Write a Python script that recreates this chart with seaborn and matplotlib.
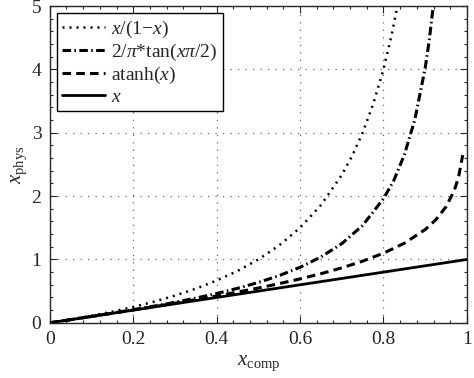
import numpy as np
import pandas as pd
import seaborn as sns
import matplotlib.pyplot as plt

# ──────────────────────────────────────────────
# Values
# ──────────────────────────────────────────────

x_ratio = [0, 0.05, 0.1, 0.15, 0.2, 0.25, 0.3, 0.35, 0.4, 0.45, 0.5, 0.55,
           0.6, 0.65, 0.7, 0.725, 0.75, 0.775, 0.8, 0.82, 0.835]
y_ratio = [0, 0.053, 0.111, 0.176, 0.25, 0.333, 0.429, 0.538, 0.667, 0.818,
           1.0, 1.222, 1.5, 1.857, 2.333, 2.636, 3.0, 3.444, 4.0, 4.556, 5.06]

x_tan = [0, 0.05, 0.1, 0.15, 0.2, 0.25, 0.3, 0.35, 0.4, 0.45, 0.5, 0.55,
         0.6, 0.65, 0.7, 0.75, 0.8, 0.825, 0.85, 0.875, 0.9, 0.91, 0.92]
y_tan = [0, 0.050, 0.101, 0.153, 0.207, 0.264, 0.324, 0.390, 0.463, 0.544,
         0.637, 0.745, 0.876, 1.039, 1.249, 1.537, 1.959, 2.250, 2.652,
         3.201, 4.020, 4.473, 5.039]

x_atanh = [0, 0.05, 0.1, 0.15, 0.2, 0.25, 0.3, 0.35, 0.4, 0.45, 0.5, 0.55,
           0.6, 0.65, 0.7, 0.75, 0.8, 0.85, 0.9, 0.925, 0.95, 0.97, 0.98, 0.99]
y_atanh = [0, 0.050, 0.100, 0.151, 0.203, 0.255, 0.310, 0.365, 0.424, 0.485,
           0.549, 0.618, 0.693, 0.775, 0.867, 0.973, 1.099, 1.256, 1.472,
           1.623, 1.832, 2.092, 2.298, 2.647]

x_lin = [0, 1]
y_lin = [0, 1]

labels = [r"$x$/(1$-$$x$)", r"2/$\pi$*tan($x\pi$/2)", r"atanh($x$)", r"$x$"]
styles = [(0, (0.8, 2.0)), (0, (2.8, 1.1, 0.5, 1.1)), (0, (2.8, 1.7)), "-"]
widths = [1.8, 2.2, 2.2, 2.0]

# ──────────────────────────────────────────────
# Style
# ──────────────────────────────────────────────

sns.set_style("ticks")
plt.rcParams["font.family"] = "serif"
plt.rcParams["font.serif"] = ["Liberation Serif", "DejaVu Serif"]
plt.rcParams["mathtext.fontset"] = "custom"
plt.rcParams["mathtext.rm"] = "Liberation Serif"
plt.rcParams["mathtext.it"] = "Liberation Serif:italic"
plt.rcParams["mathtext.cal"] = "Liberation Serif"
plt.rcParams["font.size"] = 13

fig, ax = plt.subplots(figsize=(4.74, 3.78), dpi=100)
fig.subplots_adjust(left=0.105, right=0.985, bottom=0.146, top=0.984)

series = [(x_ratio, y_ratio), (x_tan, y_tan), (x_atanh, y_atanh), (x_lin, y_lin)]
for (xs, ys), lab, ls, lw in zip(series, labels, styles, widths):
    sns.lineplot(x=xs, y=ys, ax=ax, color="black", lw=lw, linestyle=ls,
                 label=lab, estimator=None, sort=False)

ax.set_xlim(0, 1)
ax.set_ylim(0, 5)
ax.set_xticks([0, 0.2, 0.4, 0.6, 0.8, 1])
ax.set_xticklabels(["0", "0.2", "0.4", "0.6", "0.8", "1"])
ax.set_yticks([0, 1, 2, 3, 4, 5])
ax.set_xticks(np.arange(0, 1.001, 0.04), minor=True)
ax.set_yticks(np.arange(0, 5.001, 0.2), minor=True)
ax.tick_params(which="both", direction="in", top=True, right=True,
               width=0.8, labelsize=14)
ax.tick_params(axis="x", pad=6)
ax.tick_params(axis="y", pad=6)
ax.tick_params(which="major", length=5)
ax.tick_params(which="minor", length=2.5)
ax.grid(True, which="major", linestyle=(0, (1, 5)), color="#666666", lw=0.9)
for sp in ax.spines.values():
    sp.set_linewidth(1.0)

ax.set_xlabel(r"$x_{\mathrm{comp}}$", fontsize=15, labelpad=4)
ax.set_ylabel(r"$x_{\mathrm{phys}}$", fontsize=15, labelpad=2)

leg = ax.legend(loc="upper left", frameon=True, fancybox=False,
                edgecolor="black", framealpha=1, borderaxespad=0.35,
                handlelength=2.2, handletextpad=0.3, labelspacing=0.1,
                borderpad=0.3, fontsize=14)
leg.get_frame().set_linewidth(1.0)

plt.savefig("out.png", dpi=100)
